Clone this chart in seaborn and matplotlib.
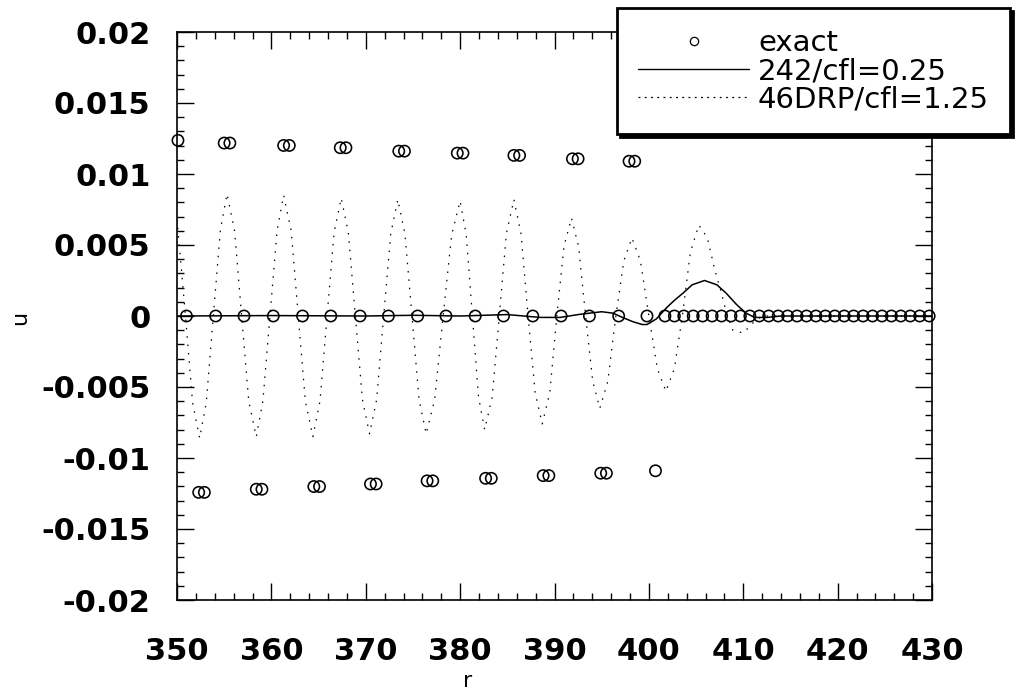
import matplotlib
matplotlib.use("Agg")
import matplotlib.pyplot as plt
import seaborn as sns
import pandas as pd
from matplotlib.ticker import MultipleLocator
from matplotlib.lines import Line2D

# ---------------- data ----------------
# exact solution (circles): upper samples, lower samples, samples on the axis
exact_upper_r = [350.1, 355.0, 355.6, 361.3, 361.9, 367.3, 367.9, 373.5, 374.1,
                 379.7, 380.3, 385.7, 386.3, 391.9, 392.5, 397.9, 398.5]
exact_upper_u = [0.01237, 0.01218, 0.01218, 0.01201, 0.01201, 0.01185, 0.01185,
                 0.01161, 0.01161, 0.01147, 0.01147, 0.01131, 0.01131, 0.01107,
                 0.01107, 0.01090, 0.01090]
exact_lower_r = [352.3, 352.9, 358.4, 359.0, 364.5, 365.1, 370.5, 371.1, 376.5,
                 377.1, 382.7, 383.3, 388.8, 389.4, 394.9, 395.5, 400.7]
exact_lower_u = [-0.01242, -0.01242, -0.01220, -0.01220, -0.01201, -0.01201,
                 -0.01183, -0.01183, -0.01161, -0.01161, -0.01143, -0.01143,
                 -0.01124, -0.01124, -0.01107, -0.01107, -0.01090]
exact_zero_r = [351.0, 354.1, 357.1, 360.2, 363.3, 366.3, 369.4, 372.4, 375.5,
                378.5, 381.6, 384.6, 387.7, 390.7, 393.7, 396.8, 399.8, 401.7,
                402.7, 403.7, 404.7, 405.7, 406.7, 407.7, 408.7, 409.7, 410.7,
                411.7, 412.7, 413.7, 414.7, 415.7, 416.7, 417.7, 418.7, 419.7,
                420.7, 421.7, 422.7, 423.7, 424.7, 425.7, 426.7, 427.7, 428.7,
                429.7]
exact_zero_u = [0.0, 0.0, 0.0, 0.0, 0.0, 0.0, 0.0, 0.0, 0.0, 0.0, 0.0, 0.0,
                0.0, 0.0, 0.0, 0.0, 0.0, 0.0, 0.0, 0.0, 0.0, 0.0, 0.0, 0.0,
                0.0, 0.0, 0.0, 0.0, 0.0, 0.0, 0.0, 0.0, 0.0, 0.0, 0.0, 0.0,
                0.0, 0.0, 0.0, 0.0, 0.0, 0.0, 0.0, 0.0, 0.0, 0.0]

# 2-4-2 scheme, cfl = 0.25 (solid line)
s242_r = [350.0, 360.0, 370.0, 375.0, 380.0, 385.0, 388.5, 390.6, 392.5, 393.7,
          395.0, 396.2, 397.2, 398.3, 399.3, 399.8, 400.8, 401.9, 402.7, 403.6,
          404.6, 405.9, 407.2, 408.2, 409.3, 410.3, 411.2, 412.5, 414.0, 420.0,
          430.0]
s242_u = [0.0, 0.00003, 0.0, 0.00005, 0.0, 0.0001, -0.0001, -0.0001, 0.0001,
          0.0002, 0.0003, 0.0002, -0.0001, -0.0004, -0.0006, -0.0006, -0.0002,
          0.0006, 0.0011, 0.0016, 0.0022, 0.0025, 0.0022, 0.0016, 0.0008,
          0.0002, -0.0001, -0.0001, 0.0, 0.0, 0.0]

# 4-6 DRP scheme, cfl = 1.25 (dotted line)
drp_r = [350.0, 350.9, 351.65, 352.4, 353.1, 353.85, 354.6, 355.3, 356.1, 356.85,
         357.6, 358.4, 359.1, 359.85, 360.6, 361.3, 362.1, 362.85, 363.6, 364.4,
         365.15, 365.9, 366.65, 367.4, 368.15, 368.9, 369.65, 370.4, 371.15,
         371.9, 372.65, 373.4, 374.15, 374.9, 375.65, 376.4, 377.3, 378.2, 379.1,
         380.0, 380.65, 381.3, 381.95, 382.6, 383.4, 384.15, 384.9, 385.7,
         386.45, 387.2, 387.95, 388.7, 389.5, 390.25, 391.0, 391.8, 392.55,
         393.3, 394.05, 394.8, 395.65, 396.5, 397.35, 398.2, 399.1, 400.0, 400.9,
         401.8, 402.7, 403.55, 404.4, 405.3, 406.2, 407.0, 407.7, 408.3, 408.9,
         410.0, 411.0, 412.0, 414.0, 420.0, 430.0]
drp_u = [0.0068, 0.0, -0.0061, -0.0086, -0.0061, 0.0, 0.0061, 0.0086, 0.0060,
         0.0, -0.0060, -0.0085, -0.0060, 0.0, 0.0060, 0.0085, 0.0060, 0.0,
         -0.0060, -0.0085, -0.0060, 0.0, 0.0059, 0.0083, 0.0059, 0.0, -0.0059,
         -0.0083, -0.0059, 0.0, 0.0058, 0.0082, 0.0058, 0.0, -0.0059, -0.0083,
         -0.0059, 0.0, 0.0057, 0.0081, 0.0057, 0.0, -0.0057, -0.0080, -0.0057,
         0.0, 0.0058, 0.0082, 0.0058, 0.0, -0.0054, -0.0076, -0.0054, 0.0,
         0.0049, 0.0069, 0.0049, 0.0, -0.0046, -0.0065, -0.0046, 0.0, 0.0039,
         0.0055, 0.0039, 0.0, -0.0037, -0.0053, -0.0037, 0.0, 0.0045, 0.0064,
         0.0055, 0.0032, 0.0016, 0.0, -0.0010, -0.0012, -0.0005, 0.0, 0.0, 0.0,
         0.0]

xtick_values = [350, 360, 370, 380, 390, 400, 410, 420, 430]
xtick_labels = ["350", "360", "370", "380", "390", "400", "410", "420", "430"]
ytick_values = [-0.02, -0.015, -0.01, -0.005, 0.0, 0.005, 0.01, 0.015, 0.02]
ytick_labels = ["-0.02", "-0.015", "-0.01", "-0.005", "0", "0.005", "0.01",
                "0.015", "0.02"]
legend_labels = ["exact", "242/cfl=0.25", "46DRP/cfl=1.25"]

# ---------------- plotting ----------------
sns.set_style("ticks")
plt.rcParams["font.family"] = ["DejaVu Sans"]
plt.rcParams["text.color"] = "black"
plt.rcParams["axes.labelcolor"] = "black"
plt.rcParams["xtick.color"] = "black"
plt.rcParams["ytick.color"] = "black"

fig = plt.figure(figsize=(10.21, 6.92), dpi=100)
ax = fig.add_axes([177 / 1021, 1 - 600 / 692, 755 / 1021, 568 / 692])

exact_df = pd.DataFrame({
    "r": exact_upper_r + exact_lower_r + exact_zero_r,
    "u": exact_upper_u + exact_lower_u + exact_zero_u,
})
drp_df = pd.DataFrame({"r": drp_r, "u": drp_u})
s242_df = pd.DataFrame({"r": s242_r, "u": s242_u})

sns.lineplot(data=drp_df, x="r", y="u", ax=ax, color="black", linewidth=0.9,
             linestyle=(0, (1.2, 5.5)), sort=False, estimator=None, legend=False)
sns.lineplot(data=s242_df, x="r", y="u", ax=ax, color="black", linewidth=1.1,
             sort=False, estimator=None, legend=False)
sns.scatterplot(data=exact_df, x="r", y="u", ax=ax, marker="o", s=66,
                facecolor="none", edgecolor="black", linewidth=1.15,
                clip_on=False, zorder=3, legend=False)

ax.set_xlim(350, 430)
ax.set_ylim(-0.02, 0.02)
ax.set_xticks(xtick_values, xtick_labels)
ax.set_yticks(ytick_values, ytick_labels)
ax.xaxis.set_minor_locator(MultipleLocator(2))
ax.yaxis.set_minor_locator(MultipleLocator(0.001))
ax.tick_params(which="both", direction="in", top=True, right=True,
               color="black", labelcolor="black", width=1.0)
ax.tick_params(which="major", length=12, labelsize=22)
ax.tick_params(axis="x", which="major", pad=27)
ax.tick_params(axis="y", which="major", pad=19)
ax.tick_params(which="minor", length=5)
for lab in ax.get_xticklabels() + ax.get_yticklabels():
    lab.set_fontweight("bold")
    lab.set_color("black")
for sp in ax.spines.values():
    sp.set_color("black")
    sp.set_linewidth(1.2)

ax.set_xlabel("r", fontsize=16, color="black")
ax.set_ylabel("u", fontsize=16, color="black")
ax.xaxis.set_label_coords(0.385, -0.125)
ax.yaxis.set_label_coords(-0.195, 0.496)

handles = [
    Line2D([], [], linestyle="none", marker="o", markersize=6,
           markerfacecolor="none", markeredgecolor="black", markeredgewidth=0.9),
    Line2D([], [], color="black", linewidth=1.0),
    Line2D([], [], color="black", linewidth=0.9, linestyle=(0, (1.5, 3.5))),
]
leg = fig.legend(handles, legend_labels, loc="upper right",
                 bbox_to_anchor=(1010 / 1021, 1 - 8 / 692),
                 bbox_transform=fig.transFigure, frameon=True, fancybox=False,
                 edgecolor="black", framealpha=1,
                 shadow={"color": "black", "alpha": 1},
                 fontsize=21, handlelength=3.8, handletextpad=0.3,
                 labelspacing=0.0, borderpad=0.72, borderaxespad=0)
leg.get_frame().set_linewidth(2)
for t in leg.get_texts():
    t.set_color("black")

fig.savefig("out.png", dpi=100)
